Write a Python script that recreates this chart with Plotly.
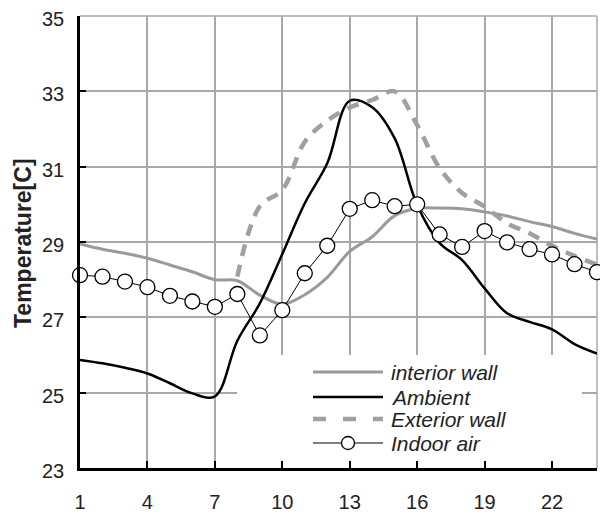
import plotly.graph_objects as go

hours = list(range(1, 25))
interior_wall = [28.95, 28.81, 28.70, 28.57, 28.39, 28.21, 28.00, 27.97, 27.59, 27.35, 27.60, 28.06,
                 28.75, 29.14, 29.70, 29.89, 29.90, 29.88, 29.80, 29.69, 29.54, 29.41, 29.23, 29.08]
ambient = [25.87, 25.78, 25.66, 25.51, 25.25, 24.98, 24.90, 26.38, 27.37, 28.68, 30.03, 31.09,
           32.75, 32.58, 31.75, 29.98, 28.97, 28.52, 27.77, 27.11, 26.88, 26.68, 26.29, 26.04]
ext_hours = list(range(8, 25))
exterior_wall = [28.08, 29.95, 30.38, 31.66, 32.22, 32.57, 32.77, 33.00, 32.10, 30.96, 30.30,
                 29.94, 29.50, 29.23, 28.90, 28.63, 28.40]
indoor_air = [28.12, 28.08, 27.95, 27.80, 27.57, 27.42, 27.28, 27.62, 26.52, 27.19, 28.17, 28.90,
              29.88, 30.11, 29.95, 30.00, 29.20, 28.87, 29.29, 28.99, 28.81, 28.67, 28.41, 28.20]
x_ticks = [1, 4, 7, 10, 13, 16, 19, 22]
y_ticks = [23, 25, 27, 29, 31, 33, 35]
series_names = ["interior wall", "Ambient", "Exterior wall", "Indoor air"]

FONT = "Liberation Sans, Arial, sans-serif"
OFF = 8  # default page margin of the html body
W, H = 608 - OFF, 517 - OFF
ML, MR, MT, MB = 80 - OFF, 608 - 597, 16 - OFF, 517 - 468
PW, PH = W - ML - MR, H - MT - MB

GRAY_INT = "#9a9a9a"
GRAY_EXT = "#a0a0a0"
GRID = "#a8a8a8"
DASH = "12px,9px"


def px_x(p):
    return (p - OFF - ML) / PW


def px_y(p):
    return (H - MB - (p - OFF)) / PH


fig = go.Figure()
fig.add_trace(go.Scatter(x=hours, y=interior_wall, name=series_names[0], mode="lines",
                         line=dict(color=GRAY_INT, width=3, shape="spline")))
fig.add_trace(go.Scatter(x=hours, y=ambient, name=series_names[1], mode="lines",
                         line=dict(color="#000000", width=2.5, shape="spline")))
fig.add_trace(go.Scatter(x=ext_hours, y=exterior_wall, name=series_names[2], mode="lines",
                         line=dict(color=GRAY_EXT, width=4.5, shape="spline", dash=DASH)))
fig.add_trace(go.Scatter(x=hours, y=indoor_air, name=series_names[3], mode="lines+markers",
                         cliponaxis=False,
                         line=dict(color="#000000", width=1),
                         marker=dict(symbol="circle", size=15, color="white",
                                     line=dict(color="#000000", width=1.3))))

# right and top borders
fig.add_shape(type="line", xref="paper", yref="paper", x0=1, x1=1, y0=0, y1=1,
              line=dict(color=GRID, width=1.5), layer="below")
fig.add_shape(type="line", xref="paper", yref="paper", x0=0, x1=1, y0=1, y1=1,
              line=dict(color=GRID, width=1.5), layer="below")
# white legend box hiding the gridlines
fig.add_shape(type="rect", xref="paper", yref="paper",
              x0=px_x(237), x1=px_x(582), y0=px_y(461), y1=px_y(355),
              fillcolor="white", line=dict(width=0), layer="above")

# manual legend
rows = [372, 397, 419, 443]
lx0, lx1, tx = 313, 383, 389
styles = [dict(color=GRAY_INT, width=3), dict(color="#000000", width=2.5),
          dict(color=GRAY_EXT, width=4.5, dash="13px,17px"), dict(color="#000000", width=1)]
for name, ry, st in zip(series_names, rows, styles):
    fig.add_shape(type="line", xref="paper", yref="paper",
                  x0=px_x(lx0), x1=px_x(lx1), y0=px_y(ry), y1=px_y(ry),
                  line=st, layer="above")
    fig.add_annotation(xref="paper", yref="paper", x=px_x(tx), y=px_y(ry),
                       xanchor="left", yanchor="middle", showarrow=False,
                       text="<i>" + name + "</i>",
                       font=dict(family=FONT, size=21, color="#222222"))
cx, cy, r = 348, rows[3], 6.5
fig.add_shape(type="circle", xref="paper", yref="paper",
              x0=px_x(cx - r), x1=px_x(cx + r), y0=px_y(cy + r), y1=px_y(cy - r),
              fillcolor="white", line=dict(color="#000000", width=1.3), layer="above")

# y-axis title
fig.add_annotation(xref="paper", yref="paper", x=px_x(23), y=px_y(243), xanchor="center",
                   yanchor="middle", textangle=-90, showarrow=False, text="<b>Temperature[C]</b>",
                   font=dict(family=FONT, size=23, color="#222222"))

fig.update_layout(
    width=W, height=H,
    margin=dict(l=ML, r=MR, t=MT, b=MB),
    paper_bgcolor="white", plot_bgcolor="white",
    font=dict(family=FONT, size=20, color="#222222"),
    showlegend=False,
    xaxis=dict(range=[1, 24], tickmode="array", tickvals=x_ticks, ticktext=[str(v) for v in x_ticks],
               showgrid=True, gridcolor=GRID, gridwidth=1.5,
               showline=True, linecolor="#000000", linewidth=2.5,
               ticks="inside", ticklen=7, tickwidth=2, tickcolor="#000000",
               zeroline=False, tickfont=dict(size=20), automargin=False, ticklabelstandoff=14,
               ticklabeloverflow="allow"),
    yaxis=dict(range=[23, 35], tickmode="array", tickvals=y_ticks, ticktext=[str(v) for v in y_ticks],
               showgrid=True, gridcolor=GRID, gridwidth=1.5,
               showline=True, linecolor="#000000", linewidth=2.5,
               ticks="inside", ticklen=6, tickwidth=2, tickcolor="#000000",
               zeroline=False, tickfont=dict(size=20), automargin=False, ticklabelstandoff=9,
               ticklabelshift=3, ticklabeloverflow="allow"),
)

fig.write_html("out.html")
